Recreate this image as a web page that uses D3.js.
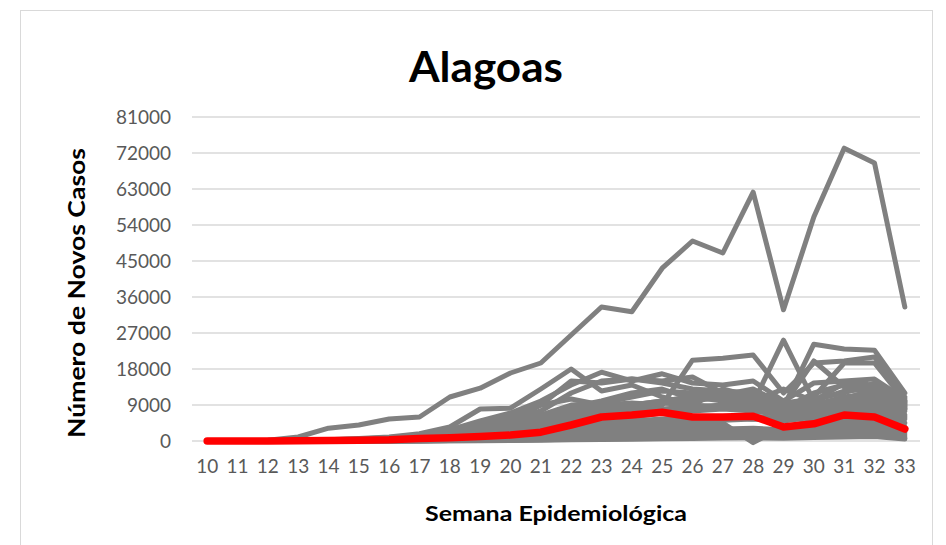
<!DOCTYPE html>
<html>
<head>
<meta charset="utf-8">
<script src="https://cdn.jsdelivr.net/npm/d3@7"></script>
<style>
  body { margin: 0; background: #fff; }
  svg text { font-family: Lato, "Open Sans", sans-serif; }
</style>
</head>
<body>
<svg id="chart" width="946" height="545"></svg>
<script>
// semanas epidemiologicas
var weeks = [10,11,12,13,14,15,16,17,18,19,20,21,22,23,24,25,26,27,28,29,30,31,32,33];
var yTicks = [0,9000,18000,27000,36000,45000,54000,63000,72000,81000];

// Alagoas (destaque em vermelho)
var alagoas = [0,0,0,50,100,200,300,600,800,1100,1500,2200,4000,6000,6500,7200,6000,6000,6200,3500,4300,6500,6000,3000];

// demais estados (cinza)
var sp  = [0,0,200,1000,3200,4000,5500,6000,11000,13200,17000,19500,26500,33500,32300,43200,50000,47000,62200,32800,56000,73200,69500,33500];
var e02 = [0,0,0,100,300,600,1000,1800,3500,8000,8200,13000,18000,12500,14000,11000,9000,13000,11000,8000,12000,14000,13500,8000];
var e03 = [0,0,0,50,200,400,800,1200,2000,4000,6000,9000,10500,9000,9500,9000,20200,20700,21500,12000,19500,20000,21000,11000];
var e04 = [0,0,0,0,100,200,400,700,1500,3000,4500,6500,9000,9500,9000,10000,11000,10000,9500,25200,10000,14500,14000,9000];
var e05 = [0,0,0,50,150,300,500,900,1800,3500,5500,7500,12000,15000,15500,14500,13000,12500,12000,8500,24200,23000,22700,12000];
var e06 = [0,0,0,100,300,500,900,1500,2800,5000,7000,10000,14000,17200,15000,16800,14500,14000,15000,10000,14500,15000,15500,10500];
var e07 = [0,0,0,0,100,200,400,800,1600,3000,5000,9000,15000,14500,15500,15000,16000,12000,10000,13000,10000,12500,13000,9500];
var e08 = [0,0,0,0,50,150,300,600,1200,2500,4000,6000,8500,10000,12000,13000,10500,11500,13000,9000,20000,13500,13000,8000];
var e09 = [0,0,0,0,50,100,250,500,1000,2000,3500,5500,7000,8000,9000,10000,11000,12000,9000,7500,11000,19500,19500,10000];
var e10 = [0,0,0,0,50,100,200,400,900,1800,3000,4500,6000,8500,9000,9500,9000,8500,8000,7000,9000,11000,12000,9000];
var e11 = [0,0,0,0,20,80,200,400,800,1500,2500,4000,6500,7500,8000,8000,8500,9000,10000,8000,9500,10000,10500,8500];
var e12 = [0,0,0,0,30,80,150,300,700,1300,2200,3500,5000,5500,6000,7000,7500,8000,7500,6500,8000,9000,9500,7500];
var e13 = [0,0,0,0,0,50,120,250,600,1100,1800,2800,4000,4500,5000,5500,6000,5800,5500,6000,7000,8000,8500,6500];
var e14 = [0,0,0,0,0,40,100,200,500,900,1500,2300,3200,3800,4300,4800,5000,5200,5500,5000,6000,7000,7000,5500];
var e15 = [0,0,0,0,0,30,80,150,400,700,1200,1800,2500,3000,3500,4000,4200,4500,-400,3500,5000,5500,6000,4500];
var e16 = [0,0,0,0,0,20,60,120,300,550,900,1400,2000,2400,2800,3200,3500,3800,0,3200,4000,4500,5000,3500];
var e17 = [0,0,0,0,0,20,50,100,250,450,700,1100,1600,2000,2300,2600,2800,3000,3200,2800,3500,3800,4000,3000];
var e18 = [0,0,0,0,0,10,40,80,200,350,550,850,1200,1500,1800,2000,2200,2300,2400,2200,2600,2800,3000,2000];
var e19 = [0,0,0,0,0,10,30,60,150,250,400,600,900,1100,1300,1500,1700,1800,1900,1700,2000,2200,2300,1500];
var e20 = [0,0,0,0,0,0,20,40,100,180,300,450,650,800,950,1100,1250,1400,1500,1400,1600,1700,1800,1000];
var e21 = [0,0,0,0,0,0,10,30,70,120,200,300,450,550,650,800,900,1000,1100,1000,1200,1300,1400,700];
var e22 = [0,0,0,0,0,0,0,20,50,80,130,200,300,380,450,550,650,750,800,700,900,1000,1100,500];
var e23 = [0,0,0,0,50,150,300,600,1500,3000,4500,6000,8000,9500,11000,12500,12000,11500,12500,9500,10500,12000,14500,10000];
var e24 = [0,0,0,0,30,100,250,500,1200,2500,3500,5000,7500,9000,8500,9500,10000,11000,10500,8500,9000,10500,13000,9500];
var e25 = [0,0,0,0,20,60,150,300,700,1500,2500,3800,5500,6500,7000,7500,8000,8500,9000,7500,8500,9500,11500,8500];
var e26 = [0,0,0,0,0,30,80,160,400,800,1400,2200,3400,4200,4800,5300,5600,6000,6200,5500,6500,7200,8000,6000];

var outros = [sp,e02,e03,e04,e05,e06,e07,e08,e09,e10,e11,e12,e13,e14,e15,e16,e17,e18,e19,e20,e21,e22,e23,e24,e25,e26];

var svg = d3.select("#chart");
var plot = {left:192, right:920, top:117, bottom:441};

// moldura
svg.append("rect")
    .attr("x",20.5).attr("y",10.5)
    .attr("width",912).attr("height",560)
    .attr("fill","#fff").attr("stroke","#d9d9d9").attr("stroke-width",1);

var x = d3.scaleBand().domain(weeks).range([plot.left,plot.right]);
var y = d3.scaleLinear().domain([0,81000]).range([plot.bottom,plot.top]);

// grade
svg.append("g").selectAll("line")
    .data(yTicks)
    .enter().append("line")
    .attr("x1",plot.left).attr("x2",plot.right)
    .attr("y1",function (d) {return y(d)})
    .attr("y2",function (d) {return y(d)})
    .attr("stroke","#d9d9d9").attr("stroke-width",1.5);

// eixo y
var yAxis = svg.append("g")
    .attr("transform","translate("+(plot.left-21)+",0)")
    .call(d3.axisLeft(y).tickValues(yTicks).tickSize(0).tickPadding(0).tickFormat(d3.format("d")));
yAxis.select(".domain").remove();
yAxis.selectAll("text").attr("fill","#595959").style("font-size","19px");

// eixo x
var xAxis = svg.append("g")
    .attr("transform","translate(0,"+(plot.bottom+18)+")")
    .call(d3.axisBottom(x).tickSize(0).tickPadding(0));
xAxis.select(".domain").remove();
xAxis.selectAll("text").attr("fill","#595959").style("font-size","19px");

var line = d3.line()
    .x(function (d,i) {return x(weeks[i])+x.bandwidth()/2})
    .y(function (d) {return y(d)});

svg.append("g").selectAll("path")
    .data(outros)
    .enter().append("path")
    .attr("d",line)
    .attr("fill","none")
    .attr("stroke","#808080")
    .attr("stroke-width",5)
    .attr("stroke-linejoin","round")
    .attr("stroke-linecap","round");

svg.append("path")
    .datum(alagoas)
    .attr("d",line)
    .attr("fill","none")
    .attr("stroke","#ff0000")
    .attr("stroke-width",7.5)
    .attr("stroke-linejoin","round")
    .attr("stroke-linecap","round");

// titulos
svg.append("text")
    .attr("x",486).attr("y",82)
    .attr("text-anchor","middle")
    .attr("textLength",154).attr("lengthAdjust","spacingAndGlyphs")
    .style("font-size","42px").style("font-weight","bold")
    .text("Alagoas");

svg.append("text")
    .attr("transform","translate(85,293) rotate(-90)")
    .attr("text-anchor","middle")
    .attr("textLength",290).attr("lengthAdjust","spacingAndGlyphs")
    .style("font-size","22px").style("font-weight","bold")
    .text("Número de Novos Casos");

svg.append("text")
    .attr("x",556).attr("y",521)
    .attr("text-anchor","middle")
    .attr("textLength",262).attr("lengthAdjust","spacingAndGlyphs")
    .style("font-size","21px").style("font-weight","bold")
    .text("Semana Epidemiológica");
</script>
</body>
</html>
